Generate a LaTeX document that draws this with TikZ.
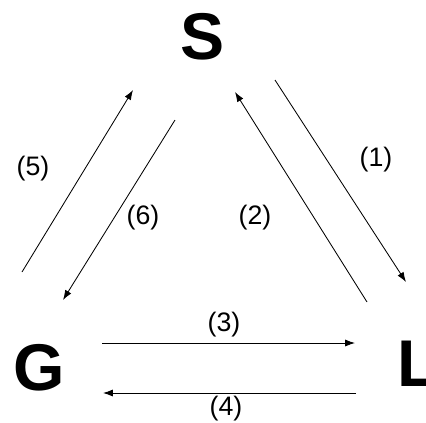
\documentclass[tikz,border=0pt]{standalone}
\usepackage{fontspec}
\setmainfont{Liberation Sans}
\usetikzlibrary{arrows.meta}

\begin{document}
\begin{tikzpicture}[x=0.025cm,y=-0.025cm,
    big/.style={inner sep=0pt, font=\fontsize{47}{50}\selectfont\bfseries},
    lab/.style={inner sep=0pt, font=\fontsize{19}{21}\selectfont},
    flow/.style={line width=0.6pt, -{Latex[length=7pt,width=5pt]}}]
    \useasboundingbox (0,0) rectangle (426,422);

    % ================= STATES =================
    \node[big] (S) at (203,37) {S};
    \node[big] (G) at (39,368) {G};
    \node[big] (L) at (418,364) {L};

    % arrow end points
    \coordinate (a5) at (22,272);   \coordinate (b5) at (133,90);
    \coordinate (a6) at (175,120);  \coordinate (b6) at (63,300);
    \coordinate (a2) at (367,302);  \coordinate (b2) at (235,92);
    \coordinate (a1) at (275,80);   \coordinate (b1) at (406,282);
    \coordinate (a3) at (102,343);  \coordinate (b3) at (355,343);
    \coordinate (a4) at (356,393);  \coordinate (b4) at (103,393);

    % ================= FLOWS =================
    \draw[flow] (a1) -- (b1);
    \draw[flow] (a2) -- (b2);
    \draw[flow] (a3) -- (b3);
    \draw[flow] (a4) -- (b4);
    \draw[flow] (a5) -- (b5);
    \draw[flow] (a6) -- (b6);

    % Labels
    \node[lab] (n1) at (376,160) {(1)};
    \node[lab] (n2) at (255,218) {(2)};
    \node[lab] (n3) at (224,325) {(3)};
    \node[lab] (n4) at (226,409) {(4)};
    \node[lab] (n5) at (33,169) {(5)};
    \node[lab] (n6) at (143,218) {(6)};
\end{tikzpicture}
\end{document}
